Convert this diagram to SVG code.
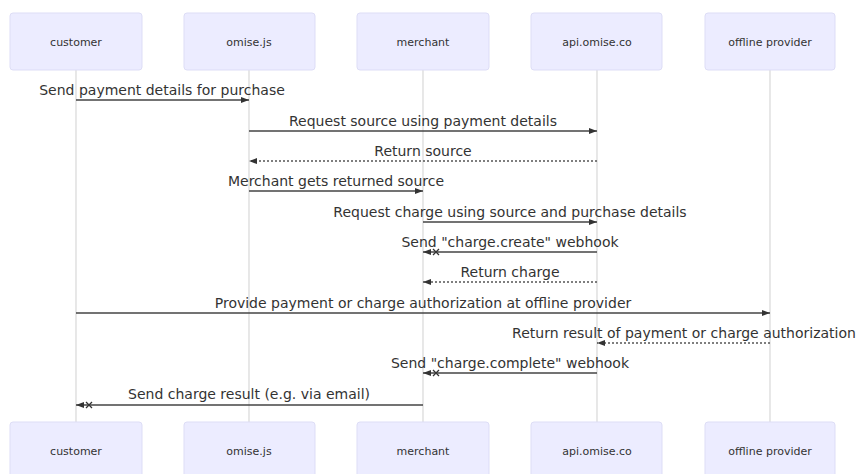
<svg xmlns="http://www.w3.org/2000/svg" width="856" height="474" viewBox="0 0 856 474">
<style>
.actor rect{fill:#ECECFF;stroke:#DDDDF6;stroke-width:1}
.actor text{font-family:"DejaVu Sans",Verdana,sans-serif;font-size:11px;fill:#333;text-anchor:middle;dominant-baseline:central}
.life{stroke:#D8D8D8;stroke-width:1.2}
.msg{stroke:#444;stroke-width:1.3;fill:none}
.dot{stroke:#555;stroke-width:1.3;stroke-dasharray:2,2;fill:none}
.lbl{font-family:"DejaVu Sans",Verdana,sans-serif;font-size:14px;fill:#333;text-anchor:middle}
</style>
<defs>
<marker id="arrow" viewBox="0 0 8 6" markerWidth="8" markerHeight="6" refX="8" refY="3" orient="auto" markerUnits="userSpaceOnUse">
<path d="M0,0 L8,3 L0,6 z" fill="#333"/>
</marker>
<marker id="cross" viewBox="0 0 21 10" markerWidth="21" markerHeight="10" refX="20" refY="5" orient="auto" markerUnits="userSpaceOnUse">
<path d="M12,2 L20,5 L12,8 z" fill="#333"/>
<path d="M4,2 L10,8 M4,8 L10,2" stroke="#333" stroke-width="1.3"/>
</marker>
</defs>
<rect width="856" height="474" fill="#fff"/>
<g id="lifelines">
<line class="life" x1="76" y1="70" x2="76" y2="422"/>
<line class="life" x1="249" y1="70" x2="249" y2="422"/>
<line class="life" x1="423" y1="70" x2="423" y2="422"/>
<line class="life" x1="597" y1="70" x2="597" y2="422"/>
<line class="life" x1="770" y1="70" x2="770" y2="422"/>
</g>
<g id="customer" class="actor"><rect x="10" y="13" width="132" height="57" rx="3"/><text x="76" y="42">customer</text></g>
<g id="omisejs" class="actor"><rect x="184" y="13" width="131" height="57" rx="3"/><text x="249" y="42">omise.js</text></g>
<g id="merchant" class="actor"><rect x="357" y="13" width="132" height="57" rx="3"/><text x="423" y="42">merchant</text></g>
<g id="api" class="actor"><rect x="531" y="13" width="131" height="57" rx="3"/><text x="597" y="42">api.omise.co</text></g>
<g id="offline" class="actor"><rect x="705" y="13" width="130" height="57" rx="3"/><text x="770" y="42">offline provider</text></g>
<g id="customer-bottom" class="actor"><rect x="10" y="422" width="132" height="57" rx="3"/><text x="76" y="451">customer</text></g>
<g id="omisejs-bottom" class="actor"><rect x="184" y="422" width="131" height="57" rx="3"/><text x="249" y="451">omise.js</text></g>
<g id="merchant-bottom" class="actor"><rect x="357" y="422" width="132" height="57" rx="3"/><text x="423" y="451">merchant</text></g>
<g id="api-bottom" class="actor"><rect x="531" y="422" width="131" height="57" rx="3"/><text x="597" y="451">api.omise.co</text></g>
<g id="offline-bottom" class="actor"><rect x="705" y="422" width="130" height="57" rx="3"/><text x="770" y="451">offline provider</text></g>
<g id="connectors">
<text class="lbl" x="162" y="95">Send payment details for purchase</text>
<line class="msg" x1="76" y1="100" x2="249" y2="100" marker-end="url(#arrow)"/>
<text class="lbl" x="423" y="126">Request source using payment details</text>
<line class="msg" x1="249" y1="131" x2="597" y2="131" marker-end="url(#arrow)"/>
<text class="lbl" x="423" y="156">Return source</text>
<line class="dot" x1="597" y1="161" x2="249" y2="161" marker-end="url(#arrow)"/>
<text class="lbl" x="336" y="186">Merchant gets returned source</text>
<line class="msg" x1="249" y1="191" x2="423" y2="191" marker-end="url(#arrow)"/>
<text class="lbl" x="510" y="217">Request charge using source and purchase details</text>
<line class="msg" x1="423" y1="222" x2="597" y2="222" marker-end="url(#arrow)"/>
<text class="lbl" x="510" y="247">Send "charge.create" webhook</text>
<line class="msg" x1="597" y1="252" x2="423" y2="252" marker-end="url(#cross)"/>
<text class="lbl" x="510" y="277">Return charge</text>
<line class="dot" x1="597" y1="282" x2="423" y2="282" marker-end="url(#arrow)"/>
<text class="lbl" x="423" y="308">Provide payment or charge authorization at offline provider</text>
<line class="msg" x1="76" y1="313" x2="770" y2="313" marker-end="url(#arrow)"/>
<text class="lbl" x="684" y="338">Return result of payment or charge authorization</text>
<line class="dot" x1="770" y1="343" x2="597" y2="343" marker-end="url(#arrow)"/>
<text class="lbl" x="510" y="368">Send "charge.complete" webhook</text>
<line class="msg" x1="597" y1="373" x2="423" y2="373" marker-end="url(#cross)"/>
<text class="lbl" x="249" y="399">Send charge result (e.g. via email)</text>
<line class="msg" x1="423" y1="405" x2="76" y2="405" marker-end="url(#cross)"/>
</g>
</svg>
